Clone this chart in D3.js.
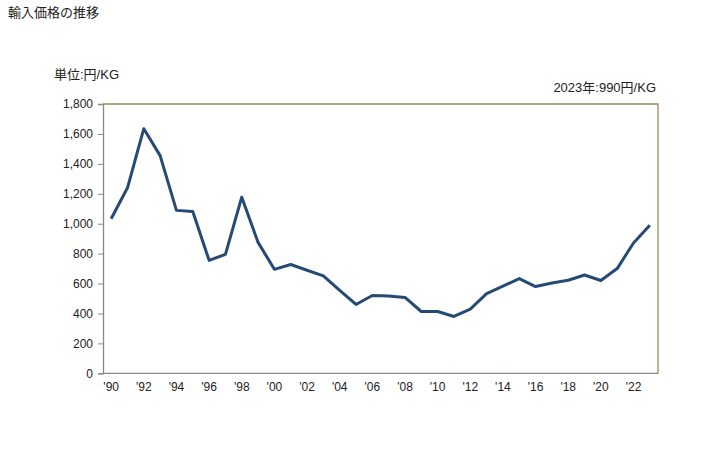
<!DOCTYPE html>
<html><head><meta charset="utf-8">
<script src="https://cdn.jsdelivr.net/npm/d3@7"></script>
<style>body{margin:0;background:#fff;} text{font-family:"Liberation Sans","Noto Sans CJK JP",sans-serif;}</style>
</head><body>
<svg id="c" width="728" height="450"></svg>
<script>
const years = d3.range(1990, 2024);
const values = [1033,1240,1635,1455,1089,1082,755,795,1177,875,695,727,689,651,555,460,520,517,507,413,413,380,429,533,582,633,580,604,622,657,620,700,871,990];
const yTicks = [0,200,400,600,800,1000,1200,1400,1600,1800];
const xTickYears = d3.range(1990, 2023, 2);
const title = "輸入価格の推移";
const unitLabel = "単位:円/KG";
const note = "2023年:990円/KG";

const svg = d3.select("#c");
const L = 103, R = 658, T = 104, B = 373.3;
const x = d3.scaleBand().domain(years).range([L, R]);
const y = d3.scaleLinear().domain([0, 1800]).range([B, T]);
const cx = d => x(d) + x.bandwidth()/2;

svg.append("text").attr("x", 8).attr("y", 17).attr("font-size", 13).attr("fill","#222").attr("font-family","Noto Sans CJK JP").text(title);
svg.append("text").attr("x", 54).attr("y", 79).attr("font-size", 13).attr("fill","#222").attr("font-family","Noto Sans CJK JP").text(unitLabel);
svg.append("text").attr("x", 656).attr("y", 92).attr("font-size", 13).attr("fill","#222").attr("text-anchor","end").attr("font-family","Noto Sans CJK JP").text(note);

// frame top/right
svg.append("path").attr("d", `M${L},${T}H${R}V${B}`).attr("fill","none").attr("stroke","#9b8c52").attr("stroke-width",1.3);

const yAxis = svg.append("g").attr("transform", `translate(${L},0)`)
  .call(d3.axisLeft(y).tickValues(yTicks).tickSize(5).tickPadding(5).tickFormat(d3.format(",")));
yAxis.select(".domain").attr("stroke","#888").attr("stroke-width",1.3);
yAxis.selectAll(".tick line").attr("stroke","#888");
yAxis.selectAll("text").attr("font-size", 12).attr("fill","#222").attr("font-family","Liberation Sans");

const xAxis = svg.append("g").attr("transform", `translate(0,${B})`)
  .call(d3.axisBottom(x).tickValues(xTickYears).tickSize(0).tickPadding(9).tickFormat(d => "'" + String(d).slice(2)));
xAxis.select(".domain").attr("d", `M${L},0H${R}`).attr("stroke","#888").attr("stroke-width",1.3);
xAxis.selectAll("text").attr("font-size", 12).attr("fill","#222").attr("font-family","Liberation Sans");

const line = d3.line().x((d,i) => cx(years[i])).y(d => y(d));
svg.append("path").datum(values).attr("d", line).attr("fill","none")
  .attr("stroke","#264a76").attr("stroke-width",3).attr("stroke-linejoin","round");
</script>
</body></html>
